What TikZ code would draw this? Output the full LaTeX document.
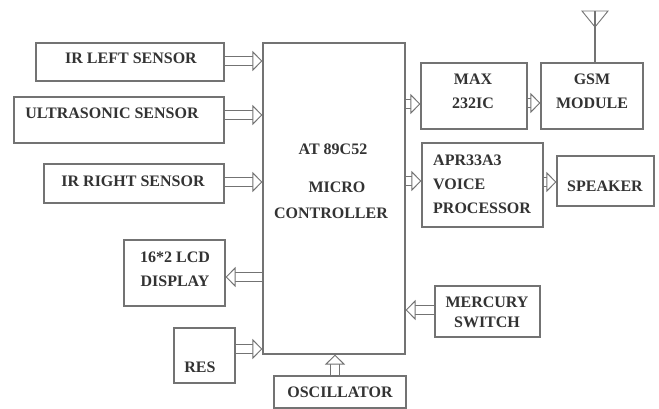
\documentclass[tikz,border=0pt]{standalone}
\usepackage{fontspec}
\setmainfont{Liberation Serif}
\usetikzlibrary{arrows.meta}
\definecolor{boxline}{gray}{0.45}
\definecolor{boxtext}{gray}{0.2}
\begin{document}
\begin{tikzpicture}[x=1pt, y=-1pt,
      every node/.append style={font=\fontsize{16}{24}\selectfont\bfseries, text=boxtext},
      blockbox/.style={draw=boxline, line width=1.1pt, fill=white, inner sep=0pt, align=center},
      boxlabel/.style={inner sep=0pt, align=center},
      blockarrow/.style={draw=boxline, line width=1pt, double, double distance=8.5pt,
        -{Triangle[open, fill=white, length=10pt, width=20pt]}}]
    \useasboundingbox (0,0) rectangle (659,409);

    % ---------------- controller ----------------
    \node[blockbox, minimum width=142pt, minimum height=311pt] (mcu) at (334,198.5) {};
    \node[boxlabel] (mcu-a) at (333,149) {AT 89C52};
    \node[boxlabel] (mcu-b) at (337,187) {MICRO};
    \node[boxlabel] (mcu-c) at (331,213) {CONTROLLER};

    % ---------------- left side ----------------
    \node[blockbox, minimum width=188pt, minimum height=38pt] (irleft) at (130,62) {};
    \node[boxlabel] (irleft-t) at (131,58) {IR LEFT SENSOR};
    \node[blockbox, minimum width=210pt, minimum height=46pt] (ultra) at (119,120) {};
    \node[boxlabel] (ultra-t) at (112,113) {ULTRASONIC SENSOR};
    \node[blockbox, minimum width=180pt, minimum height=39pt] (irright) at (134,183.5) {};
    \node[boxlabel] (irright-t) at (133,181) {IR RIGHT SENSOR};
    \node[blockbox, minimum width=101pt, minimum height=66pt] (lcd) at (174.5,273) {};
    \node[boxlabel] (lcd-t) at (175,269) {16*2 LCD\\DISPLAY};
    \node[blockbox, minimum width=61pt, minimum height=55pt] (res) at (204.5,355.5) {};
    \node[boxlabel] (res-t) at (200,367) {RES};

    % ---------------- right side ----------------
    \node[blockbox, minimum width=106pt, minimum height=66pt] (max) at (474,96) {};
    \node[boxlabel] (max-t) at (473,91) {MAX\\232IC};
    \node[blockbox, minimum width=102pt, minimum height=66pt] (gsm) at (592,96) {};
    \node[boxlabel] (gsm-t) at (592,91) {GSM\\MODULE};
    \node[blockbox, minimum width=121pt, minimum height=84pt] (apr) at (482.5,185) {};
    \node[boxlabel, align=left, anchor=west] (apr-t) at (433,184) {APR33A3\\VOICE\\PROCESSOR};
    \node[blockbox, minimum width=97pt, minimum height=50pt] (spk) at (605.5,181) {};
    \node[boxlabel] (spk-t) at (605,186) {SPEAKER};
    \node[blockbox, minimum width=105pt, minimum height=51pt] (merc) at (487.5,311.5) {};
    \node[boxlabel, font=\fontsize{16}{20}\selectfont\bfseries] (merc-t) at (487,312) {MERCURY\\SWITCH};
    \node[blockbox, minimum width=132pt, minimum height=32pt] (osc) at (340,392) {OSCILLATOR};

    % antenna on the gsm module
    \coordinate (ant-l) at (582,11);
    \coordinate (ant-r) at (608,11);
    \coordinate (ant-a) at (595,27);
    \coordinate (ant-t) at (595,11);
    \draw[boxline, line width=1.1pt] (gsm.north -| ant-t) -- (ant-t);
    \draw[boxline, line width=.9pt] (ant-l) -- (ant-r) -- (ant-a) -- cycle;

    % ---------------- block arrows ----------------
    \foreach \a/\b/\y in {irleft/mcu/61, ultra/mcu/115, irright/mcu/182, res/mcu/349}
      \draw[blockarrow] (\a.east |- 0,\y) -- (\b.west |- 0,\y);
    \foreach \a/\b/\y in {mcu/max/104, max/gsm/103, mcu/apr/181, apr/spk/182}
      \draw[blockarrow] (\a.east |- 0,\y) -- (\b.west |- 0,\y);
    \draw[blockarrow] (mcu.west |- 0,277) -- (lcd.east |- 0,277);
    \draw[blockarrow] (merc.west |- 0,310) -- (mcu.east |- 0,310);
    \draw[blockarrow] (osc.north -| 335,0) -- (mcu.south -| 335,0);
  \end{tikzpicture}
\end{document}
